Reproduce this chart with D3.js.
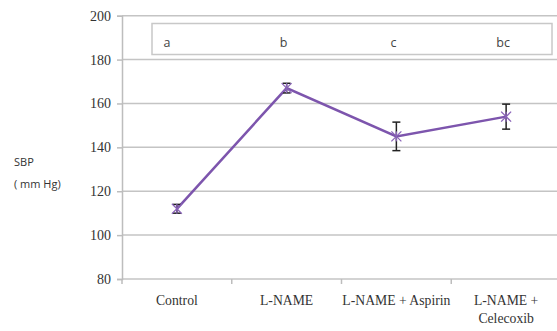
<!DOCTYPE html>
<html><head><meta charset="utf-8">
<script src="https://cdn.jsdelivr.net/npm/d3@7"></script>
<style>body{margin:0;background:#fff}svg{display:block}</style>
</head><body><svg id="c" width="557" height="331"></svg>
<script>
const categories = [["Control"], ["L-NAME"], ["L-NAME + Aspirin"], ["L-NAME +", "Celecoxib"]];
const sbp = [112, 167, 145, 154];
const sbpErr = [2, 2.2, 6.5, 5.7];
const letters = ["a", "b", "c", "bc"];
const yTicks = [80, 100, 120, 140, 160, 180, 200];

const svg = d3.select("#c");
const L = 122, R = 561, T = 15.7, B = 279;
const x = d3.scaleBand().domain(d3.range(categories.length)).range([L, R]);
const y = d3.scaleLinear().domain([80, 200]).range([B, T]);

// grid
svg.append("g").selectAll("line").data(yTicks).join("line")
  .attr("x1", L).attr("x2", R).attr("y1", d => y(d)).attr("y2", d => y(d))
  .attr("stroke", "#c4c4c4").attr("stroke-width", 1.5);

// y axis
const ya = svg.append("g").attr("transform", `translate(${L},0)`)
  .call(d3.axisLeft(y).tickValues(yTicks).tickSize(5).tickPadding(6));
ya.select(".domain").attr("stroke", "#bdbdbd").attr("stroke-width", 1.5);
ya.selectAll(".tick line").attr("stroke", "#bdbdbd").attr("stroke-width", 1.5);
ya.selectAll("text").attr("font-family", "Liberation Serif").attr("font-size", 14).attr("fill", "#333");

// x axis ticks at band boundaries
const bounds = d3.range(categories.length + 1).map(i => L + i * x.step());
svg.append("g").selectAll("line").data(bounds).join("line")
  .attr("x1", d => d).attr("x2", d => d).attr("y1", B).attr("y2", B + 5)
  .attr("stroke", "#bdbdbd").attr("stroke-width", 1.5);

// category labels
svg.append("g").selectAll("text").data(categories).join("text")
  .attr("x", (d, i) => x(i) + x.bandwidth() / 2).attr("y", 304.5)
  .attr("text-anchor", "middle").attr("font-family", "Liberation Serif")
  .attr("font-size", 13.7).attr("fill", "#333")
  .each(function(d) {
    d3.select(this).selectAll("tspan").data(d).join("tspan")
      .attr("x", d3.select(this).attr("x")).attr("dy", (t, j) => j ? 18.5 : 0).text(t => t);
  });

// letters box
svg.append("rect").attr("x", 152).attr("y", 23.5).attr("width", 400).attr("height", 31)
  .attr("fill", "#fff").attr("stroke", "#c8c8c8").attr("stroke-width", 1.5);
svg.append("g").selectAll("text").data(letters).join("text")
  .attr("x", (d, i) => i === 0 ? 167 : x(i) + x.bandwidth() / 2 - 3)
  .attr("y", 47).attr("text-anchor", "middle")
  .attr("font-family", "Open Sans").attr("font-size", 12.5).attr("fill", "#444").text(d => d);

// line
const line = d3.line().x((d, i) => x(i) + x.bandwidth() / 2).y(d => y(d));
svg.append("path").datum(sbp).attr("d", line).attr("fill", "none")
  .attr("stroke", "#7d55ad").attr("stroke-width", 2.5);

// error bars
const eb = svg.append("g").attr("stroke", "#222").attr("stroke-width", 1.5);
sbp.forEach((v, i) => {
  const cx = x(i) + x.bandwidth() / 2;
  const y1 = y(v + sbpErr[i]), y2 = y(v - sbpErr[i]);
  eb.append("line").attr("x1", cx).attr("x2", cx).attr("y1", y1).attr("y2", y2);
  eb.append("line").attr("x1", cx - 4).attr("x2", cx + 4).attr("y1", y1).attr("y2", y1);
  eb.append("line").attr("x1", cx - 4).attr("x2", cx + 4).attr("y1", y2).attr("y2", y2);
});

// markers (star)
const mk = svg.append("g").attr("stroke", "#8a63b8").attr("stroke-width", 1.3);
sbp.forEach((v, i) => {
  const cx = x(i) + x.bandwidth() / 2, cy = y(v);
  mk.append("line").attr("x1", cx - 5).attr("x2", cx + 5).attr("y1", cy - 5).attr("y2", cy + 5);
  mk.append("line").attr("x1", cx - 5).attr("x2", cx + 5).attr("y1", cy + 5).attr("y2", cy - 5);
  mk.append("line").attr("x1", cx).attr("x2", cx).attr("y1", cy - 5).attr("y2", cy + 5);
});

// y label
svg.append("text").attr("x", 14).attr("y", 166).attr("font-family", "Open Sans")
  .attr("font-size", 11).attr("fill", "#333").text("SBP");
svg.append("text").attr("x", 14).attr("y", 188).attr("font-family", "Open Sans")
  .attr("font-size", 11).attr("fill", "#333").text("( mm Hg)");
</script></body></html>
